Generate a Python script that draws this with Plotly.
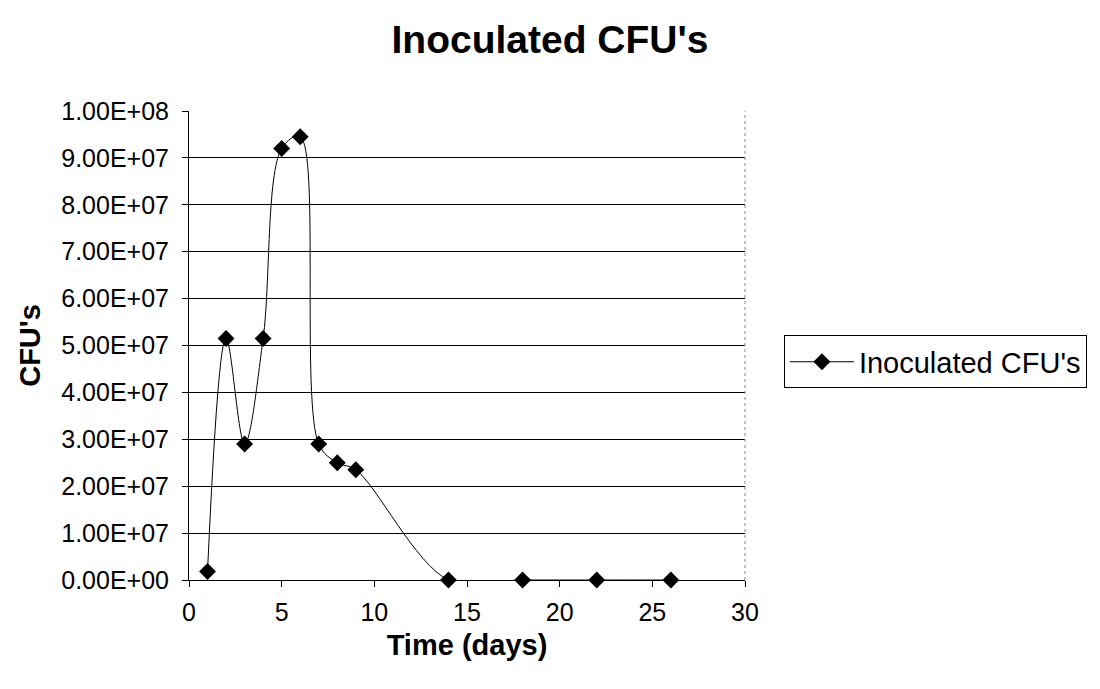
import plotly.graph_objects as go

# Colony-forming units counted on each sampling day
days = [1, 2, 3, 4, 5, 6, 7, 8, 9, 14, 18, 22, 26]
cfus = [1.8e6, 5.15e7, 2.9e7, 5.15e7, 9.2e7, 9.45e7, 2.9e7, 2.5e7, 2.35e7, 0, 0, 0, 0]

y_ticks = [i * 1e7 for i in range(11)]
y_tick_text = [f"{v:.2E}" for v in y_ticks]
x_ticks = [0, 5, 10, 15, 20, 25, 30]

FONT = "Liberation Sans, Arial, sans-serif"

fig = go.Figure()
fig.add_trace(go.Scatter(
    x=days, y=cfus, name="Inoculated CFU's",
    mode="lines+markers",
    line=dict(color="black", width=1, shape="spline", smoothing=1),
    marker=dict(symbol="diamond", size=13, color="black"),
    cliponaxis=False,
))

# right edge of the plotting area, drawn dotted
fig.add_shape(type="line", xref="paper", yref="paper", x0=1, x1=1, y0=0, y1=1,
              line=dict(color="#888888", width=1, dash="dot"))

fig.update_layout(
    width=1100, height=689,
    paper_bgcolor="white", plot_bgcolor="white",
    margin=dict(l=189, r=355, t=111, b=109),
    font=dict(family=FONT, color="black"),
    title=dict(text="<b>Inoculated CFU's</b>", x=0.5, xref="container",
               y=0.943, yref="container", yanchor="middle",
               font=dict(size=39, family=FONT)),
    showlegend=True,
    legend=dict(x=1.07, xanchor="left", y=0.465, yanchor="middle",
                bordercolor="black", borderwidth=1, bgcolor="white",
                font=dict(size=29, family=FONT), itemwidth=64),
    xaxis=dict(range=[0, 30], tickvals=x_ticks, showgrid=False, zeroline=False,
               showline=True, linecolor="black", linewidth=1,
               ticks="outside", ticklen=6, tickcolor="black",
               tickfont=dict(size=25), ticklabelstandoff=4,
               title=dict(text="<b>Time (days)</b>", font=dict(size=29), standoff=9)),
    yaxis=dict(range=[0, 1e8], tickvals=y_ticks, ticktext=y_tick_text,
               showgrid=True, gridcolor="black", gridwidth=1, zeroline=False,
               showline=True, linecolor="black", linewidth=1,
               ticks="outside", ticklen=6, tickcolor="black",
               tickfont=dict(size=25), ticklabelstandoff=8,
               title=dict(text="<b>CFU's</b>", font=dict(size=29), standoff=12)),
)

fig.write_html("out.html")
